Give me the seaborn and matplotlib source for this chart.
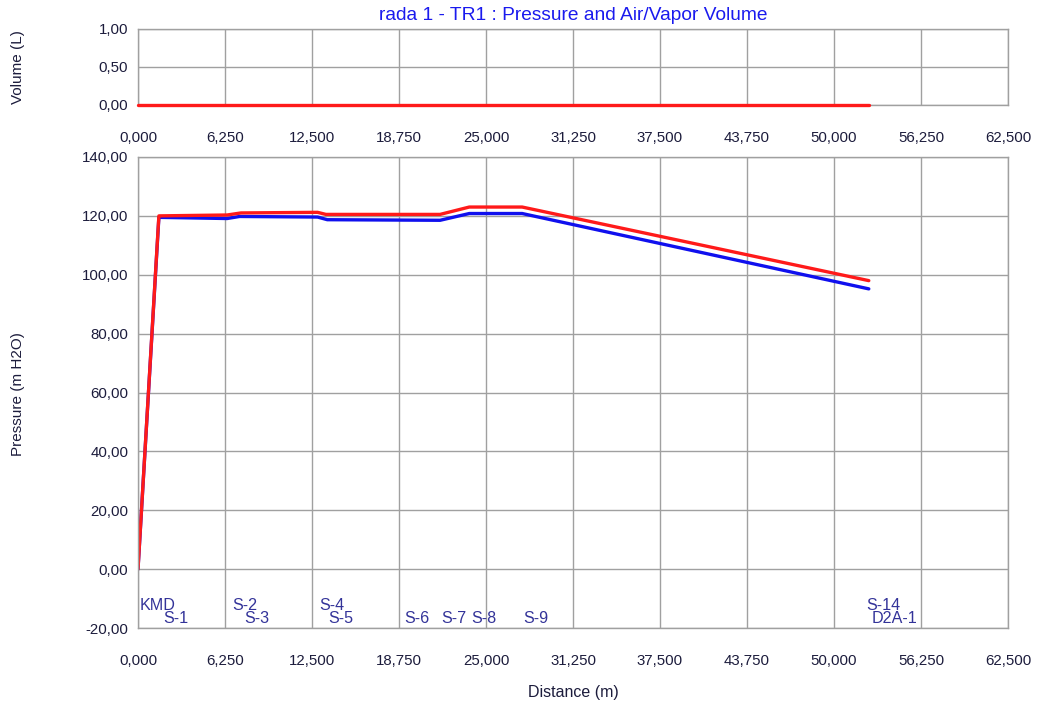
import matplotlib
matplotlib.use("Agg")
import matplotlib.pyplot as plt
from matplotlib.ticker import FuncFormatter, MultipleLocator
import seaborn as sns
import pandas as pd

# Pressure profile along the line (distance in m, pressure in m H2O)
dist_min = [0, 1500, 6400, 7300, 12900, 13600, 21700, 23800, 27600, 52500]
press_min = [0.0, 119.5, 119.1, 119.8, 119.6, 118.7, 118.5, 120.8, 120.8, 95.2]
dist_max = [0, 1500, 6400, 7400, 12900, 13500, 21700, 23800, 27600, 52500]
press_max = [0.0, 120.0, 120.3, 121.0, 121.2, 120.5, 120.5, 123.0, 123.0, 98.0]

# Air/vapor volume along the line (L)
dist_vol = [0, 52500]
volume = [0.0, 0.0]

# Station names, their distances and label row (0 = upper, 1 = lower)
stations = ["KMD", "S-1", "S-2", "S-3", "S-4", "S-5", "S-6", "S-7", "S-8", "S-9", "S-14", "D2A-1"]
station_dist = [0, 1650, 6600, 7450, 12900, 13550, 19000, 21650, 23800, 27550, 52150, 52550]
station_row = [0, 1, 0, 1, 0, 1, 1, 1, 1, 1, 0, 1]

sns.set_theme(style="white")
plt.rcParams["font.family"] = ["Liberation Sans", "DejaVu Sans"]

W, H = 1043, 704
fig = plt.figure(figsize=(W / 100, H / 100), dpi=100)
L, R = 138 / W, 1008 / W
ax_v = fig.add_axes([L, 1 - 105 / H, R - L, (105 - 29) / H])
ax_p = fig.add_axes([L, 1 - 628 / H, R - L, (628 - 157) / H])

grid_c = "#a0a0a0"
tick_c = "#1c1c3c"
lab_c = "#333399"

vol_df = pd.DataFrame({"Distance": dist_vol, "Volume": volume})
sns.lineplot(data=vol_df, x="Distance", y="Volume", ax=ax_v, color="#ff1a1a",
             linewidth=2.4, legend=False)
for ln in ax_v.get_lines():
    ln.set_clip_on(False)
    ln.set_zorder(5)

press_df = pd.concat([
    pd.DataFrame({"Distance": dist_min, "Pressure": press_min, "Series": "min"}),
    pd.DataFrame({"Distance": dist_max, "Pressure": press_max, "Series": "max"}),
])
sns.lineplot(data=press_df, x="Distance", y="Pressure", hue="Series",
             palette={"min": "#1010ee", "max": "#ff1a1a"}, hue_order=["min", "max"],
             ax=ax_p, linewidth=2.4, legend=False, sort=False, estimator=None)

xfmt = FuncFormatter(lambda v, p: f"{v / 1000:.3f}".replace(".", ","))
yfmt = FuncFormatter(lambda v, p: f"{v:.2f}".replace(".", ","))

for ax in (ax_v, ax_p):
    ax.set_xlim(0, 62500)
    ax.xaxis.set_major_locator(MultipleLocator(6250))
    ax.xaxis.set_major_formatter(xfmt)
    ax.yaxis.set_major_formatter(yfmt)
    ax.grid(True, color=grid_c, linewidth=1.0)
    ax.set_axisbelow(True)
    for s in ax.spines.values():
        s.set_color(grid_c)
        s.set_linewidth(1.0)
    ax.tick_params(axis="x", length=0, pad=19, labelsize=10.8, labelcolor=tick_c)
    ax.tick_params(axis="y", length=0, pad=7, labelsize=10.8, labelcolor=tick_c)
    ax.set_xlabel("")
    ax.set_ylabel("")

ax_v.set_ylim(0, 1)
ax_v.yaxis.set_major_locator(MultipleLocator(0.5))
ax_p.set_ylim(-20, 140)
ax_p.yaxis.set_major_locator(MultipleLocator(20))

row_y = [-12.2, -16.9]
for name, d, r in zip(stations, station_dist, station_row):
    ax_p.annotate(name, (d, row_y[r]), xytext=(1.5, 0), textcoords="offset points",
                  ha="left", va="center", fontsize=11.6, color=lab_c)

fig.text((L + R) / 2, 1 - 16 / H, "rada 1 - TR1 : Pressure and Air/Vapor Volume",
         ha="center", va="center", fontsize=13.8, color="#1a1aee")
fig.text(18 / W, 1 - 67 / H, "Volume (L)", rotation=90, ha="center", va="center",
         fontsize=11, color=tick_c)
fig.text(18 / W, 1 - 394 / H, "Pressure (m H2O)", rotation=90, ha="center", va="center",
         fontsize=11, color=tick_c)
fig.text((L + R) / 2, 1 - 692 / H, "Distance (m)", ha="center", va="center",
         fontsize=11.5, color=tick_c)

fig.savefig("out.png", dpi=100, facecolor="white")
